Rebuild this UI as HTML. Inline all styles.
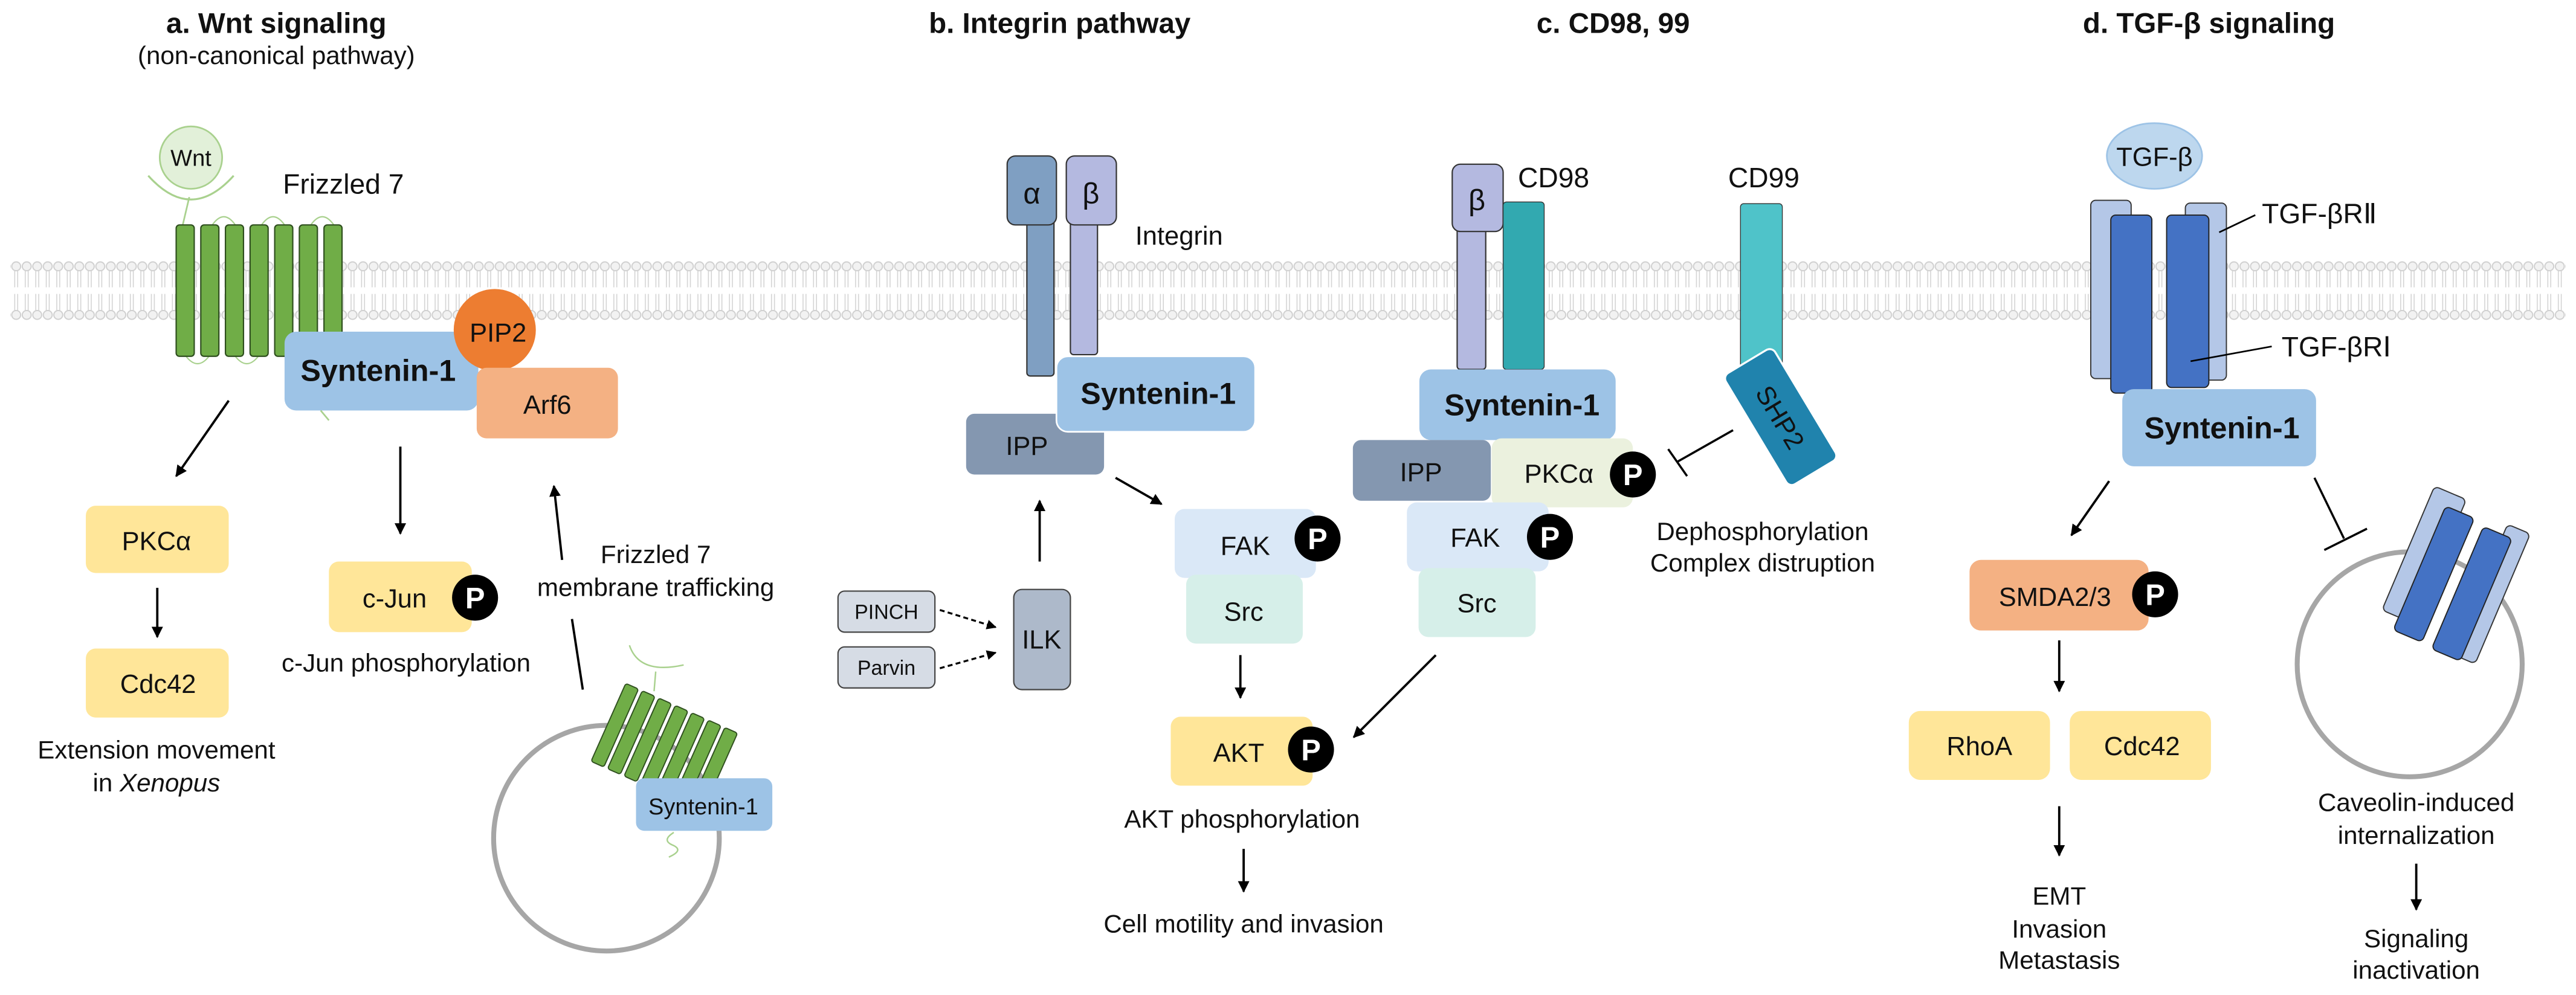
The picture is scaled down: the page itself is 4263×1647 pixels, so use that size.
<!DOCTYPE html>
<html><head><meta charset="utf-8"><style>
html,body{margin:0;padding:0;background:#fff;}
svg{display:block;}
text{font-family:"Liberation Sans",Arial,sans-serif;fill:#111;}
</style></head><body>
<svg width="4263" height="1647" viewBox="0 0 1568 606" xmlns="http://www.w3.org/2000/svg">
<defs>
<pattern id="mem" x="0" y="159" width="6.4" height="36" patternUnits="userSpaceOnUse">
<circle cx="3.2" cy="3.2" r="2.7" fill="#f2f2f2" stroke="#cfcfcf" stroke-width="0.7"/>
<circle cx="3.2" cy="32.8" r="2.7" fill="#f2f2f2" stroke="#cfcfcf" stroke-width="0.7"/>
<line x1="2.3" y1="6" x2="2.3" y2="16" stroke="#d4d4d4" stroke-width="0.6"/>
<line x1="4.1" y1="6" x2="4.1" y2="16" stroke="#d4d4d4" stroke-width="0.6"/>
<line x1="2.3" y1="20" x2="2.3" y2="30" stroke="#d4d4d4" stroke-width="0.6"/>
<line x1="4.1" y1="20" x2="4.1" y2="30" stroke="#d4d4d4" stroke-width="0.6"/>
</pattern>
<marker id="ar" viewBox="0 0 10 10" refX="9" refY="5" markerWidth="5" markerHeight="5" orient="auto"><path d="M0,0 L10,5 L0,10 Z" fill="#000"/></marker>
<g id="P"><circle r="14" fill="#000"/><text y="6.5" text-anchor="middle" font-size="18" font-weight="bold" style="fill:#fff">P</text></g>
<g id="fzbar"><rect width="11" height="80" rx="2" fill="#70ad47" stroke="#2f4f1f" stroke-width="0.8"/></g>
<g id="vb"><rect x="0" y="-26" width="8.5" height="52" rx="1.5" fill="#70ad47" stroke="#2f4f1f" stroke-width="0.7"/></g>
</defs>

<!-- membrane -->
<rect x="6" y="159" width="1556" height="36" fill="url(#mem)"/>

<!-- titles -->
<text x="168" y="20" text-anchor="middle" font-size="17.5" font-weight="bold">a. Wnt signaling</text>
<text x="168" y="39" text-anchor="middle" font-size="15.5">(non-canonical pathway)</text>
<text x="645" y="20" text-anchor="middle" font-size="17.5" font-weight="bold">b. Integrin pathway</text>
<text x="982" y="20" text-anchor="middle" font-size="17.5" font-weight="bold">c. CD98, 99</text>
<text x="1268" y="20" font-size="17.5" font-weight="bold">d. TGF-β signaling</text>

<!-- ===== Panel a ===== -->
<circle cx="116" cy="96" r="19" fill="#e2f0d9" stroke="#a9d18e" stroke-width="1"/>
<text x="116" y="101" text-anchor="middle" font-size="14">Wnt</text>
<path d="M90,107 Q116,136 142,107" fill="none" stroke="#a9d18e" stroke-width="1.2"/>
<line x1="115" y1="120" x2="111" y2="137" stroke="#a9d18e" stroke-width="1"/>
<text x="172" y="118" font-size="17">Frizzled  7</text>
<path d="M129,137 q7,-10 14,0 M159,137 q7,-10 14,0 M189,137 q7,-10 14,0" fill="none" stroke="#a9d18e" stroke-width="0.8"/>
<path d="M113,217 q7,9 14,0 M143,217 q7,9 14,0" fill="none" stroke="#a9d18e" stroke-width="0.8"/>
<use href="#fzbar" x="107" y="137"/><use href="#fzbar" x="122" y="137"/><use href="#fzbar" x="137" y="137"/>
<use href="#fzbar" x="152" y="137"/><use href="#fzbar" x="167" y="137"/><use href="#fzbar" x="182" y="137"/><use href="#fzbar" x="197" y="137"/>
<rect x="173" y="202" width="118" height="48" rx="7" fill="#9dc3e6"/>
<text x="230" y="232" text-anchor="middle" font-size="18.5" font-weight="bold">Syntenin-1</text>
<circle cx="301" cy="201" r="25" fill="#ed7d31"/>
<text x="303" y="208" text-anchor="middle" font-size="16">PIP2</text>
<rect x="290" y="224" width="86" height="43" rx="6" fill="#f4b183"/>
<text x="333" y="252" text-anchor="middle" font-size="16">Arf6</text>
<path d="M195,250 l5,6" stroke="#a9d18e" stroke-width="1"/>

<line x1="139" y1="244" x2="107" y2="290" stroke="#000" stroke-width="1.4" marker-end="url(#ar)"/>
<rect x="52" y="308" width="87" height="41" rx="6" fill="#ffe699"/>
<text x="95" y="335" text-anchor="middle" font-size="16">PKCα</text>
<line x1="95.5" y1="358" x2="95.5" y2="388" stroke="#000" stroke-width="1.4" marker-end="url(#ar)"/>
<rect x="52" y="395" width="87" height="42" rx="6" fill="#ffe699"/>
<text x="96" y="422" text-anchor="middle" font-size="16">Cdc42</text>
<text x="95" y="462" text-anchor="middle" font-size="15.5">Extension movement</text>
<text x="95" y="482" text-anchor="middle" font-size="15.5">in <tspan font-style="italic">Xenopus</tspan></text>

<line x1="243.5" y1="272" x2="243.5" y2="325" stroke="#000" stroke-width="1.4" marker-end="url(#ar)"/>
<rect x="200" y="342" width="87" height="43" rx="6" fill="#ffe699"/>
<text x="240" y="370" text-anchor="middle" font-size="16">c-Jun</text>
<use href="#P" x="289" y="364"/>
<text x="247" y="409" text-anchor="middle" font-size="15.5">c-Jun phosphorylation</text>

<line x1="342" y1="341" x2="337" y2="296" stroke="#000" stroke-width="1.4" marker-end="url(#ar)"/>
<line x1="348" y1="377" x2="354.6" y2="420" stroke="#000" stroke-width="1.4"/>
<text x="399" y="343" text-anchor="middle" font-size="15.5">Frizzled 7</text>
<text x="399" y="363" text-anchor="middle" font-size="15.5">membrane trafficking</text>

<circle cx="369" cy="510.5" r="68.7" fill="none" stroke="#a6a6a6" stroke-width="3"/>
<path d="M383,393 q6,18 33,12 M399,409 l-1,12" fill="none" stroke="#a9d18e" stroke-width="0.9"/>
<g transform="translate(404,455) rotate(24)">
<use href="#vb" x="-37"/><use href="#vb" x="-26"/><use href="#vb" x="-15"/><use href="#vb" x="-4"/>
<use href="#vb" x="7"/><use href="#vb" x="18"/><use href="#vb" x="29"/>
</g>
<rect x="387" y="474" width="83" height="32" rx="5" fill="#9dc3e6"/>
<text x="428" y="496" text-anchor="middle" font-size="14">Syntenin-1</text>
<path d="M410,507 q-8,5 0,8 q6,3 -3,7" fill="none" stroke="#a9d18e" stroke-width="0.9"/>

<!-- ===== Panel b ===== -->
<rect x="625" y="130" width="16.5" height="99" rx="2" fill="#7f9fc2" stroke="#333" stroke-width="0.8"/>
<rect x="613" y="95" width="30" height="42" rx="5" fill="#7f9fc2" stroke="#333" stroke-width="0.8"/>
<text x="628" y="124" text-anchor="middle" font-size="18">α</text>
<rect x="651.5" y="130" width="16.5" height="86" rx="2" fill="#b4b9e0" stroke="#333" stroke-width="0.8"/>
<rect x="649" y="95" width="30.5" height="42" rx="5" fill="#b4b9e0" stroke="#333" stroke-width="0.8"/>
<text x="664" y="124" text-anchor="middle" font-size="18">β</text>
<text x="691" y="149" font-size="16">Integrin</text>
<rect x="588" y="252" width="84" height="37" rx="5" fill="#8497b0"/>
<text x="625" y="277" text-anchor="middle" font-size="16">IPP</text>
<rect x="643" y="217" width="121" height="46" rx="7" fill="#9dc3e6" stroke="#fff" stroke-width="1"/>
<text x="705" y="246" text-anchor="middle" font-size="18.5" font-weight="bold">Syntenin-1</text>
<line x1="679" y1="291" x2="707" y2="307" stroke="#000" stroke-width="1.4" marker-end="url(#ar)"/>
<line x1="632.8" y1="342" x2="632.8" y2="305" stroke="#000" stroke-width="1.4" marker-end="url(#ar)"/>

<rect x="715" y="310" width="86" height="42" rx="6" fill="#dae8f7"/>
<text x="758" y="338" text-anchor="middle" font-size="16">FAK</text>
<use href="#P" x="802" y="328"/>
<rect x="722" y="350" width="71" height="42" rx="6" fill="#d6efe9"/>
<text x="757" y="378" text-anchor="middle" font-size="16">Src</text>
<line x1="755" y1="399" x2="755" y2="425" stroke="#000" stroke-width="1.4" marker-end="url(#ar)"/>
<rect x="712.6" y="436.5" width="86.4" height="42" rx="6" fill="#ffe699"/>
<text x="754" y="464" text-anchor="middle" font-size="16">AKT</text>
<use href="#P" x="798" y="456.5"/>
<text x="756" y="504" text-anchor="middle" font-size="15.5">AKT phosphorylation</text>
<line x1="757" y1="517" x2="757" y2="543" stroke="#000" stroke-width="1.4" marker-end="url(#ar)"/>
<text x="757" y="568" text-anchor="middle" font-size="15.5">Cell motility and invasion</text>

<rect x="617" y="359" width="34.5" height="61" rx="5" fill="#adb9ca" stroke="#444" stroke-width="0.8"/>
<text x="634" y="395" text-anchor="middle" font-size="16">ILK</text>
<rect x="510" y="360" width="59" height="25" rx="4" fill="#d6dce5" stroke="#444" stroke-width="0.8"/>
<text x="539.5" y="377" text-anchor="middle" font-size="12.5">PINCH</text>
<rect x="510" y="394" width="59" height="25" rx="4" fill="#d6dce5" stroke="#444" stroke-width="0.8"/>
<text x="539.5" y="411" text-anchor="middle" font-size="12.5">Parvin</text>
<line x1="572" y1="371.5" x2="606" y2="382" stroke="#000" stroke-width="1.2" stroke-dasharray="3,2" marker-end="url(#ar)"/>
<line x1="572" y1="407" x2="606" y2="397.5" stroke="#000" stroke-width="1.2" stroke-dasharray="3,2" marker-end="url(#ar)"/>

<!-- ===== Panel c ===== -->
<rect x="887" y="135" width="17.4" height="90" rx="2" fill="#b4b9e0" stroke="#333" stroke-width="0.8"/>
<rect x="884" y="100" width="31" height="41" rx="5" fill="#b4b9e0" stroke="#333" stroke-width="0.8"/>
<text x="899" y="128" text-anchor="middle" font-size="18">β</text>
<rect x="915" y="123" width="25" height="102" rx="2" fill="#32a9b0" stroke="#333" stroke-width="0.5"/>
<text x="924" y="114" font-size="17">CD98</text>
<text x="1052" y="114" font-size="17">CD99</text>
<rect x="1059.5" y="124" width="25.5" height="100" rx="2" fill="#4fc3c9" stroke="#333" stroke-width="0.5"/>
<g transform="translate(1084,254) rotate(-31)">
<rect x="-17.5" y="-39.5" width="35" height="79" rx="4" fill="#2083ad" stroke="#fff" stroke-width="1.2"/>
<text transform="rotate(90)" x="0" y="6" text-anchor="middle" font-size="16">SHP2</text>
</g>
<rect x="864" y="225" width="119.5" height="43" rx="7" fill="#9dc3e6"/>
<text x="926.5" y="253" text-anchor="middle" font-size="18.5" font-weight="bold">Syntenin-1</text>
<rect x="823.5" y="268" width="84" height="37" rx="5" fill="#8497b0"/>
<text x="865" y="293" text-anchor="middle" font-size="16">IPP</text>
<rect x="908" y="267" width="86" height="42" rx="6" fill="#ebf1de"/>
<text x="949" y="294" text-anchor="middle" font-size="16">PKCα</text>
<use href="#P" x="994" y="289"/>
<rect x="856.4" y="306" width="86.3" height="42" rx="6" fill="#dae8f7"/>
<text x="898" y="333" text-anchor="middle" font-size="16">FAK</text>
<use href="#P" x="943.5" y="327"/>
<rect x="863.5" y="346" width="71.3" height="42" rx="6" fill="#d6efe9"/>
<text x="899" y="373" text-anchor="middle" font-size="16">Src</text>
<line x1="1055" y1="262" x2="1021.5" y2="281" stroke="#000" stroke-width="1.3"/>
<line x1="1015.5" y1="273.5" x2="1027" y2="290" stroke="#000" stroke-width="1.3"/>
<text x="1073" y="329" text-anchor="middle" font-size="15.5">Dephosphorylation</text>
<text x="1073" y="348" text-anchor="middle" font-size="15.5">Complex distruption</text>
<line x1="874" y1="399" x2="824" y2="449" stroke="#000" stroke-width="1.4" marker-end="url(#ar)"/>

<!-- ===== Panel d ===== -->
<ellipse cx="1311.6" cy="95" rx="29" ry="20" fill="#bdd7ee" stroke="#9dc3e6"/>
<text x="1311.6" y="101" text-anchor="middle" font-size="16">TGF-β</text>
<rect x="1272.8" y="122" width="24.6" height="108.6" rx="3" fill="#b4c7e7" stroke="#333" stroke-width="0.7"/>
<rect x="1330.4" y="123.7" width="25" height="107.8" rx="3" fill="#b4c7e7" stroke="#333" stroke-width="0.7"/>
<rect x="1285" y="131" width="25" height="108.4" rx="3" fill="#4472c4" stroke="#222" stroke-width="0.7"/>
<rect x="1319" y="131" width="25.7" height="105" rx="3" fill="#4472c4" stroke="#222" stroke-width="0.7"/>
<line x1="1351" y1="141.5" x2="1373" y2="131" stroke="#000" stroke-width="1"/>
<text x="1377" y="136" font-size="17">TGF-βRⅡ</text>
<line x1="1333.6" y1="220" x2="1383" y2="211" stroke="#000" stroke-width="1"/>
<text x="1389" y="217" font-size="17">TGF-βRⅠ</text>
<rect x="1292" y="237" width="118" height="47" rx="7" fill="#9dc3e6"/>
<text x="1352.7" y="267" text-anchor="middle" font-size="18.5" font-weight="bold">Syntenin-1</text>
<line x1="1284" y1="293" x2="1261" y2="326" stroke="#000" stroke-width="1.4" marker-end="url(#ar)"/>
<rect x="1199" y="341" width="109" height="43" rx="7" fill="#f4b183"/>
<text x="1251" y="369" text-anchor="middle" font-size="16">SMDA2/3</text>
<use href="#P" x="1312" y="362"/>
<line x1="1253.6" y1="390" x2="1253.6" y2="421" stroke="#000" stroke-width="1.4" marker-end="url(#ar)"/>
<rect x="1162" y="433" width="86" height="42" rx="7" fill="#ffe699"/>
<text x="1205" y="460" text-anchor="middle" font-size="16">RhoA</text>
<rect x="1260" y="433" width="86" height="42" rx="7" fill="#ffe699"/>
<text x="1304" y="460" text-anchor="middle" font-size="16">Cdc42</text>
<line x1="1253.6" y1="491" x2="1253.6" y2="521" stroke="#000" stroke-width="1.4" marker-end="url(#ar)"/>
<text x="1253.6" y="551" text-anchor="middle" font-size="15.5">EMT</text>
<text x="1253.6" y="571" text-anchor="middle" font-size="15.5">Invasion</text>
<text x="1253.6" y="590" text-anchor="middle" font-size="15.5">Metastasis</text>

<line x1="1409" y1="291" x2="1427" y2="328" stroke="#000" stroke-width="1.3"/>
<line x1="1415" y1="335" x2="1441" y2="322" stroke="#000" stroke-width="1.3"/>
<circle cx="1467" cy="404.6" r="68.5" fill="none" stroke="#a6a6a6" stroke-width="3"/>
<g transform="translate(1493,355) rotate(23)">
<rect x="-33" y="-50" width="21" height="82" rx="3" fill="#b4c7e7" stroke="#333" stroke-width="0.7"/>
<rect x="-22" y="-41.5" width="19" height="82" rx="3" fill="#4472c4" stroke="#222" stroke-width="0.7"/>
<rect x="17" y="-46" width="15" height="86" rx="3" fill="#b4c7e7" stroke="#333" stroke-width="0.7"/>
<rect x="4" y="-39" width="19" height="81" rx="3" fill="#4472c4" stroke="#222" stroke-width="0.7"/>
</g>
<text x="1471" y="494" text-anchor="middle" font-size="15.5">Caveolin-induced</text>
<text x="1471" y="514" text-anchor="middle" font-size="15.5">internalization</text>
<line x1="1471" y1="526" x2="1471" y2="554" stroke="#000" stroke-width="1.4" marker-end="url(#ar)"/>
<text x="1471" y="577" text-anchor="middle" font-size="15.5">Signaling</text>
<text x="1471" y="596" text-anchor="middle" font-size="15.5">inactivation</text>
</svg>
</body></html>
